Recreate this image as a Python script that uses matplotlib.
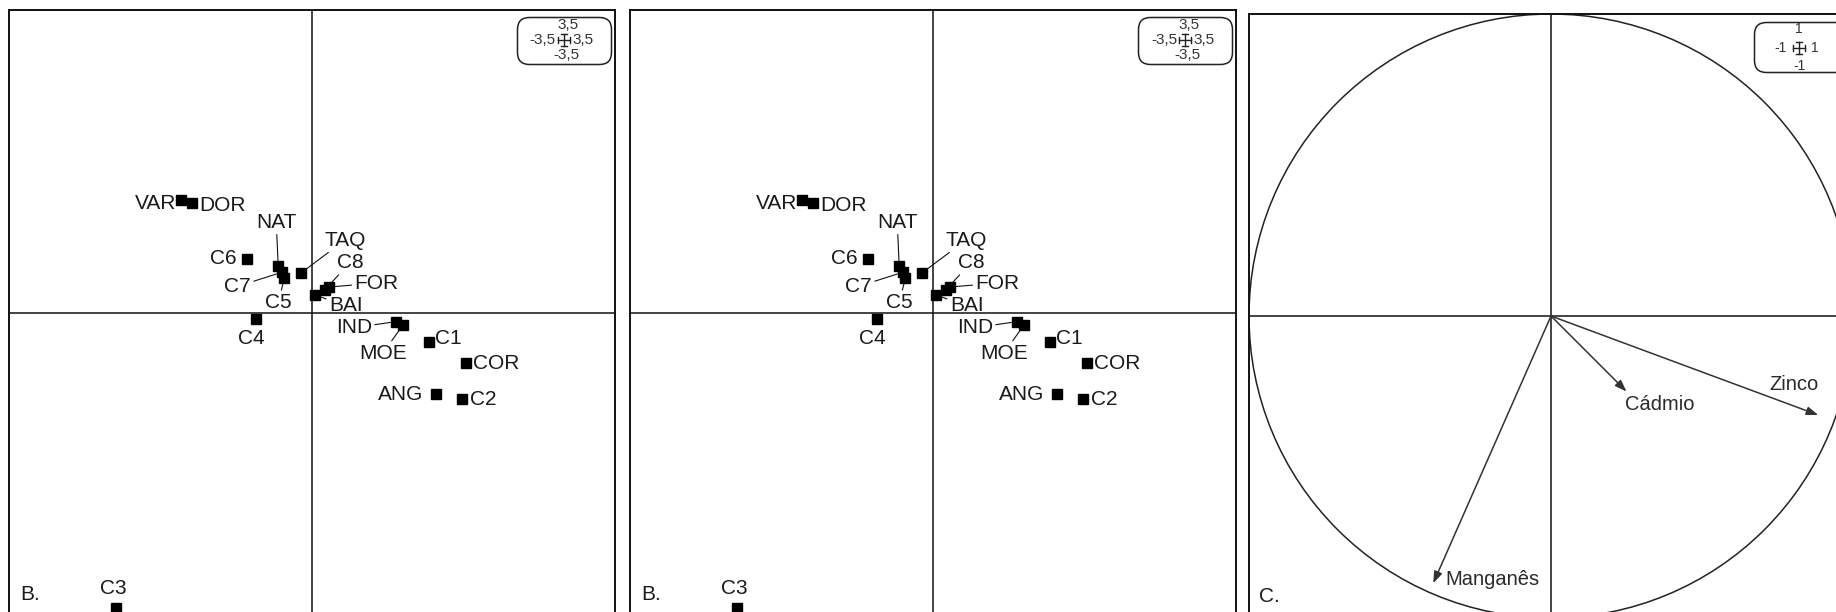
import numpy as np
import matplotlib
matplotlib.use("Agg")
import matplotlib.pyplot as plt
from matplotlib.patches import FancyBboxPatch, Circle

plt.rcParams['font.family'] = ['Liberation Sans', 'DejaVu Sans']

# Site scores on the first two axes (factorial map B)
sites = ['VAR', 'DOR', 'C6', 'NAT', 'C7', 'C5', 'TAQ', 'BAI', 'C8', 'FOR',
         'C4', 'IND', 'MOE', 'C1', 'COR', 'ANG', 'C2', 'C3']
site_x = [-1.51, -1.39, -0.75, -0.39, -0.35, -0.32, -0.13, 0.03, 0.15, 0.20,
          -0.65, 0.97, 1.05, 1.35, 1.78, 1.43, 1.73, -2.26]
site_y = [1.30, 1.27, 0.62, 0.54, 0.47, 0.40, 0.46, 0.21, 0.27, 0.30,
          -0.07, -0.10, -0.14, -0.34, -0.58, -0.94, -0.99, -3.41]

# Metal loadings on the correlation circle (C)
metals = ['Cádmio', 'Zinco', 'Manganês']
metal_x = [0.25, 0.885, -0.39]
metal_y = [-0.25, -0.328, -0.885]

site_lim = 3.5
circle_lim = 1.0

# label offsets in pixels: (dx, dy, ha, leader line)
site_label_pos = {
    'VAR': (-5, -3, 'right', False),
    'DOR': (8, -2, 'left', False),
    'C6': (-10, 1, 'right', False),
    'NAT': (-2, 44, 'center', True),
    'C7': (-44, -14, 'center', True),
    'C5': (-6, -24, 'center', True),
    'TAQ': (44, 33, 'center', True),
    'BAI': (31, -11, 'center', True),
    'C8': (25, 27, 'center', True),
    'FOR': (47, 4, 'center', True),
    'C4': (-4, -19, 'center', False),
    'IND': (-42, -6, 'center', True),
    'MOE': (-20, -28, 'center', True),
    'C1': (6, 4, 'left', False),
    'COR': (7, 0, 'left', False),
    'ANG': (-13, 0, 'right', False),
    'C2': (8, -1, 'left', False),
    'C3': (-3, 20, 'center', False),
}
metal_label_pos = {
    'Cádmio': (-2, -13, 'left'),
    'Zinco': (0, 31, 'right'),
    'Manganês': (12, 4, 'left'),
}

W, H = 1836, 612
fig = plt.figure(figsize=(W / 100, H / 100), dpi=100)
fig.patch.set_facecolor('white')


def panel(left, top, size):
    ax = fig.add_axes([left / W, (H - top - size) / H, size / W, size / H])
    ax.set_xticks([])
    ax.set_yticks([])
    for s in ax.spines.values():
        s.set_linewidth(1.4)
        s.set_color('#111111')
    return ax


def scale_box(ax, size, rect_px, labels, cross, label_xy, fs):
    x0, top, bw, bh = rect_px
    bx = ax.inset_axes([x0 / size, (size - top - bh) / size, bw / size, bh / size])
    bx.set_xlim(0, bw)
    bx.set_ylim(0, bh)
    bx.axis('off')
    bx.add_patch(FancyBboxPatch((1.5, 1.5), bw - 3, bh - 3,
                                boxstyle='round,pad=0,rounding_size=12',
                                fc='white', ec='#222222', lw=1.1, clip_on=False))
    cx, cy = cross
    a, c = 6, 3
    kw = dict(color='#222222', lw=1.0)
    bx.plot([cx - a, cx + a], [cy, cy], **kw)
    bx.plot([cx, cx], [cy - a, cy + a], **kw)
    bx.plot([cx - a, cx - a], [cy - c, cy + c], **kw)
    bx.plot([cx + a, cx + a], [cy - c, cy + c], **kw)
    bx.plot([cx - c, cx + c], [cy - a, cy - a], **kw)
    bx.plot([cx - c, cx + c], [cy + a, cy + a], **kw)
    aligns = ['center', 'right', 'left', 'center']
    for txt, (tx, ty), ha in zip(labels, label_xy, aligns):
        bx.text(tx, ty, txt, ha=ha, va='center', fontsize=fs, color='#333333')


def site_panel(left):
    size = 606
    ax = panel(left, 10, size)
    ax.set_xlim(-site_lim, site_lim)
    ax.set_ylim(-site_lim, site_lim)
    ax.axhline(0, color='#111111', lw=1.1, zorder=1)
    ax.axvline(0, color='#111111', lw=1.1, zorder=1)
    ax.plot(site_x, site_y, 's', color='black', ms=7.5, ls='none', zorder=3,
            clip_on=False)
    for name, px, py in zip(sites, site_x, site_y):
        dx, dy, ha, leader = site_label_pos[name]
        arrow = None
        if leader:
            arrow = dict(arrowstyle='-', color='#111111', lw=0.8,
                         shrinkA=0, shrinkB=4)
        ax.annotate(name, (px, py), xytext=(dx, dy), textcoords='offset pixels',
                    ha=ha, va='center', fontsize=15, color='#1a1a1a',
                    arrowprops=arrow, zorder=4)
    ax.text(11 / size, 22 / size, 'B.', transform=ax.transAxes,
            fontsize=15, ha='left', va='center', color='#1a1a1a')
    scale_box(ax, size, (507, 6, 97, 50),
              ['3,5', '-3,5', '3,5', '-3,5'], (48, 26),
              [(52, 41), (40, 26), (56, 26), (50, 11)], 11)
    return ax


site_panel(9)
site_panel(630)

# correlation circle
size3 = 604
ax3 = panel(1249, 14, size3)
ax3.set_xlim(-circle_lim, circle_lim)
ax3.set_ylim(-circle_lim, circle_lim)
ax3.axhline(0, color='#111111', lw=1.1, zorder=1)
ax3.axvline(0, color='#111111', lw=1.1, zorder=1)
ax3.add_patch(Circle((0, 0), 1.0, fill=False, ec='#222222', lw=1.1))
for name, vx, vy in zip(metals, metal_x, metal_y):
    ax3.annotate('', xy=(vx, vy), xytext=(0, 0),
                 arrowprops=dict(arrowstyle='-|>,head_length=0.5,head_width=0.18',
                                 color='#333333', lw=1.1, mutation_scale=14,
                                 shrinkA=0, shrinkB=0))
    dx, dy, ha = metal_label_pos[name]
    ax3.annotate(name, (vx, vy), xytext=(dx, dy), textcoords='offset pixels',
                 ha=ha, va='center', fontsize=14.5, color='#2a2a2a')
ax3.text(10 / size3, 22 / size3, 'C.', transform=ax3.transAxes,
         fontsize=15, ha='left', va='center', color='#1a1a1a')
scale_box(ax3, size3, (504, 7, 97, 53),
          ['1', '-1', '1', '-1'], (46, 26),
          [(46, 45), (34, 26), (58, 26), (46, 8)], 10)

fig.savefig('out.png', dpi=100)
